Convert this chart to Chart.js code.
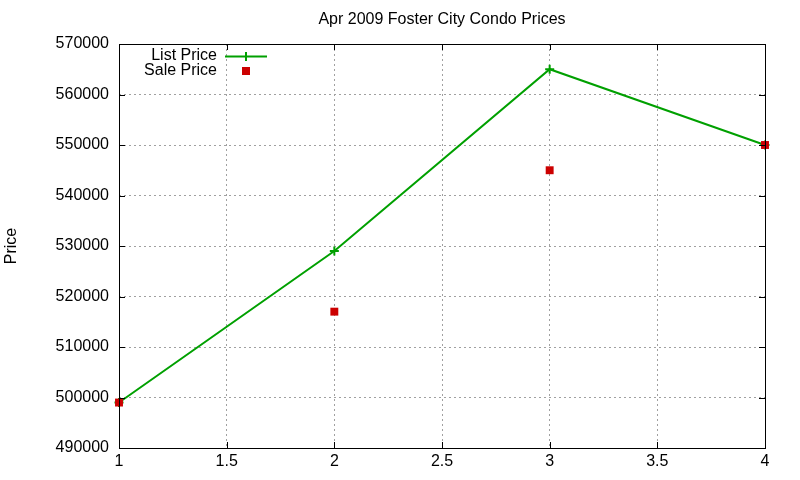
<!DOCTYPE html>
<html>
<head>
<meta charset="utf-8">
<script src="https://cdn.jsdelivr.net/npm/chart.js@4"></script>
<style>
  html, body { margin: 0; padding: 0; background: #fff; }
  #wrap { width: 800px; height: 480px; }
</style>
</head>
<body>
<div id="wrap"><canvas id="canvas"></canvas></div>
<script>
const xValues = [1, 2, 3, 4];
const listPrice = [499000, 529000, 565000, 550000];
const salePrice = [499000, 517000, 545000, 550000];
const seriesNames = ["List Price", "Sale Price"];
const chartTitle = "Apr 2009 Foster City Condo Prices";

const FONT = "'Liberation Sans', Arial, sans-serif";

// gnuplot style: full border box, inward tick marks, title over the plot, legend in the top left
const frame = {
  id: "frame",
  afterDatasetsDraw: (chart) => {
    const { ctx, chartArea: a, scales } = chart;
    ctx.save();
    ctx.strokeStyle = "#000";
    ctx.lineWidth = 1;
    ctx.setLineDash([]);
    ctx.beginPath();
    scales.x.ticks.forEach((t) => {
      const px = Math.round(scales.x.getPixelForValue(t.value)) + 0.5;
      ctx.moveTo(px, a.bottom); ctx.lineTo(px, a.bottom - 6);
      ctx.moveTo(px, a.top); ctx.lineTo(px, a.top + 6);
    });
    scales.y.ticks.forEach((t) => {
      const py = Math.round(scales.y.getPixelForValue(t.value)) + 0.5;
      ctx.moveTo(a.left, py); ctx.lineTo(a.left + 6, py);
      ctx.moveTo(a.right, py); ctx.lineTo(a.right - 6, py);
    });
    ctx.stroke();
    ctx.strokeRect(Math.round(a.left) + 0.5, Math.round(a.top) + 0.5,
      Math.round(a.right - a.left), Math.round(a.bottom - a.top));

    ctx.font = "16px " + FONT;
    ctx.fillStyle = "#000";
    ctx.textAlign = "center";
    ctx.textBaseline = "middle";
    ctx.fillText(chartTitle, (a.left + a.right) / 2, 20);

    // legend
    ctx.textAlign = "right";
    const tx = a.left + 98, sx = a.left + 127;
    ctx.fillText(seriesNames[0], tx, a.top + 12);
    ctx.fillText(seriesNames[1], tx, a.top + 27);
    ctx.strokeStyle = "#00a000";
    ctx.lineWidth = 2;
    ctx.beginPath();
    ctx.moveTo(a.left + 106, a.top + 12.5); ctx.lineTo(a.left + 148, a.top + 12.5);
    ctx.moveTo(sx, a.top + 8); ctx.lineTo(sx, a.top + 17);
    ctx.stroke();
    ctx.fillStyle = "#cc0000";
    ctx.fillRect(sx - 4, a.top + 23, 8, 8);
    ctx.restore();
  }
};

new Chart(document.getElementById("canvas"), {
  type: "line",
  data: {
    datasets: [
      {
        label: seriesNames[0],
        data: xValues.map((x, i) => ({ x: x, y: listPrice[i] })),
        borderColor: "#00a000",
        backgroundColor: "#00a000",
        borderWidth: 2,
        tension: 0,
        pointStyle: "cross",
        pointRadius: 4.5,
        pointBorderWidth: 2,
        clip: false,
        order: 1
      },
      {
        label: seriesNames[1],
        data: xValues.map((x, i) => ({ x: x, y: salePrice[i] })),
        showLine: false,
        borderColor: "#cc0000",
        backgroundColor: "#cc0000",
        pointStyle: "rect",
        pointRadius: 5.6,
        pointBorderWidth: 0,
        clip: false,
        order: 0
      }
    ]
  },
  options: {
    responsive: true,
    maintainAspectRatio: false,
    animation: false,
    layout: { padding: { left: 0, right: 35, top: 44, bottom: 0 } },
    plugins: {
      legend: { display: false },
      tooltip: { enabled: false },
      title: { display: false }
    },
    scales: {
      x: {
        type: "linear",
        min: 1,
        max: 4,
        afterFit: (s) => { s.height = 32; },
        ticks: {
          stepSize: 0.5,
          color: "#000",
          padding: 4,
          maxRotation: 0,
          font: { family: FONT, size: 16 },
          callback: (v) => String(v)
        },
        grid: { color: "#a0a0a0", lineWidth: 1, drawTicks: false },
        border: { display: false, dash: [2, 3] }
      },
      y: {
        type: "linear",
        min: 490000,
        max: 570000,
        afterFit: (s) => { s.width = 119; },
        ticks: {
          stepSize: 10000,
          color: "#000",
          padding: 10,
          font: { family: FONT, size: 16 },
          callback: (v) => String(v)
        },
        grid: { color: "#a0a0a0", lineWidth: 1, drawTicks: false },
        border: { display: false, dash: [2, 3] },
        title: {
          display: true,
          text: "Price",
          color: "#000",
          font: { family: FONT, size: 16 },
          padding: { top: 2, bottom: 0 }
        }
      }
    }
  },
  plugins: [frame]
});
</script>
</body>
</html>
